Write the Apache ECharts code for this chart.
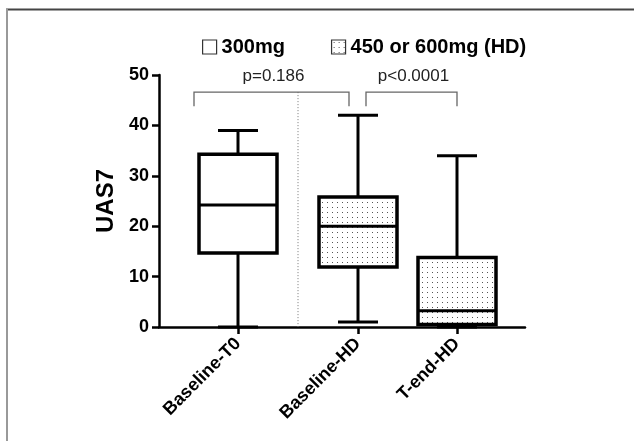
<!DOCTYPE html>
<html lang="en">
<head>
  <meta charset="UTF-8">
  <title>UAS7 boxplot</title>
  <script src="https://cdn.jsdelivr.net/npm/echarts@6/dist/echarts.min.js"></script>
  <style>
    html, body { margin: 0; padding: 0; background: #fff; }
    #main { width: 634px; height: 441px; }
  </style>
</head>
<body>
  <div id="main"></div>
  <script>
    // data
    const categories = ['Baseline-T0', 'Baseline-HD', 'T-end-HD']
    const xPos = [0.79, 1.99, 2.98]
    const mins = [0, 1, 0]
    const q1s = [14.7, 11.9, 0.5]
    const medians = [24.2, 20, 3.2]
    const q3s = [34.3, 25.8, 13.8]
    const maxs = [39, 42, 34]
    const isHD = [false, true, true]
    const yTicks = [0, 10, 20, 30, 40, 50]

    // significance brackets
    const bracketFrom = [0.35, 2.07]
    const bracketTo = [1.90, 2.98]
    const bracketTop = 46.6
    const bracketTip = 43.8
    const pLabels = ['p=0.186', 'p<0.0001']
    const separatorX = 1.39

    const seriesNames = ['300mg', '450 or 600mg (HD)']

    // dotted fill for HD boxes
    const cv = document.createElement('canvas')
    cv.width = 5
    cv.height = 5
    const cx = cv.getContext('2d')
    cx.fillStyle = '#fff'
    cx.fillRect(0, 0, 5, 5)
    cx.fillStyle = '#555'
    cx.fillRect(2, 2, 1, 1)
    const dots = { image: cv, repeat: 'repeat' }

    function boxData(hd) {
      const out = []
      categories.forEach((c, i) => {
        if (isHD[i] === hd) out.push([xPos[i], mins[i], q1s[i], medians[i], q3s[i], maxs[i]])
      })
      return out
    }

    function renderBox(fill) {
      return function (params, api) {
        const x = api.value(0)
        const pMin = api.coord([x, api.value(1)])
        const pQ1 = api.coord([x, api.value(2)])
        const pMed = api.coord([x, api.value(3)])
        const pQ3 = api.coord([x, api.value(4)])
        const pMax = api.coord([x, api.value(5)])
        const bw = api.size([0.78, 0])[0]
        const cw = api.size([0.4, 0])[0]
        const ln = { stroke: '#000', lineWidth: 3 }
        return {
          type: 'group',
          children: [
            { type: 'line', shape: { x1: pMax[0], y1: pMax[1], x2: pQ3[0], y2: pQ3[1] }, style: ln },
            { type: 'line', shape: { x1: pMin[0], y1: pMin[1], x2: pQ1[0], y2: pQ1[1] }, style: ln },
            { type: 'line', shape: { x1: pMax[0] - cw / 2, y1: pMax[1], x2: pMax[0] + cw / 2, y2: pMax[1] }, style: ln },
            { type: 'line', shape: { x1: pMin[0] - cw / 2, y1: pMin[1], x2: pMin[0] + cw / 2, y2: pMin[1] }, style: ln },
            {
              type: 'rect',
              shape: { x: pQ3[0] - bw / 2, y: pQ3[1], width: bw, height: pQ1[1] - pQ3[1] },
              style: { fill: fill, stroke: '#000', lineWidth: 3.5 }
            },
            { type: 'line', shape: { x1: pMed[0] - bw / 2, y1: pMed[1], x2: pMed[0] + bw / 2, y2: pMed[1] }, style: ln }
          ]
        }
      }
    }

    function renderBracket(params, api) {
      const a = api.coord([api.value(0), bracketTop])
      const b = api.coord([api.value(1), bracketTop])
      const tip = api.coord([0, bracketTip])[1]
      const st = { stroke: '#666', lineWidth: 1.3, fill: null }
      return {
        type: 'group',
        children: [
          {
            type: 'polyline',
            shape: { points: [[a[0], tip], [a[0], a[1]], [b[0], b[1]], [b[0], tip]] },
            style: st
          },
          {
            type: 'text',
            style: {
              text: pLabels[params.dataIndex],
              x: (a[0] + b[0]) / 2 + 2,
              y: a[1] - 16,
              align: 'center',
              verticalAlign: 'middle',
              fontFamily: 'Liberation Sans, Arial, sans-serif',
              fontSize: 17,
              fill: '#222'
            }
          }
        ]
      }
    }

    function renderSeparator(params, api) {
      const top = api.coord([api.value(0), bracketTop])
      const bot = api.coord([api.value(0), 0])
      return {
        type: 'line',
        shape: { x1: top[0], y1: top[1], x2: bot[0], y2: bot[1] },
        style: { stroke: '#777', lineWidth: 1, lineDash: [1, 2] }
      }
    }

    const font = 'Liberation Sans, Arial, sans-serif'

    const option = {
      animation: false,
      backgroundColor: '#fff',
      textStyle: { fontFamily: font },
      grid: { left: 159, right: 109, top: 75, bottom: 114, containLabel: false },
      legend: {
        left: 197,
        top: 32,
        itemWidth: 14,
        itemHeight: 14,
        itemGap: 46,
        selectedMode: false,
        textStyle: { fontFamily: font, fontSize: 20, fontWeight: 'bold', color: '#000' },
        data: [
          { name: seriesNames[0], icon: 'rect', itemStyle: { color: '#fff', borderColor: '#333', borderWidth: 1.2 } },
          { name: seriesNames[1], icon: 'rect', itemStyle: { color: dots, borderColor: '#333', borderWidth: 1.2 } }
        ]
      },
      xAxis: {
        type: 'value',
        min: 0,
        max: 3.66,
        splitLine: { show: false },
        axisLine: { lineStyle: { color: '#000', width: 2.5 } },
        axisTick: { show: true, customValues: xPos, length: 7, lineStyle: { color: '#000', width: 2.5 } },
        axisLabel: {
          customValues: xPos,
          rotate: 45,
          margin: 14,
          fontFamily: font,
          fontSize: 18,
          fontWeight: 'bold',
          color: '#000',
          formatter: v => categories[xPos.indexOf(v)] || ''
        }
      },
      yAxis: {
        type: 'value',
        name: 'UAS7',
        nameLocation: 'middle',
        nameGap: 40,
        nameRotate: 90,
        nameTextStyle: { fontFamily: font, fontSize: 24, fontWeight: 'bold', color: '#000' },
        min: 0,
        max: 50,
        interval: 10,
        splitLine: { show: false },
        axisLine: { show: true, lineStyle: { color: '#000', width: 2.5 } },
        axisTick: { show: true, length: 7, lineStyle: { color: '#000', width: 2.5 } },
        axisLabel: {
          margin: 10,
          fontFamily: font,
          fontSize: 18,
          fontWeight: 'bold',
          color: '#000',
          formatter: v => (yTicks.indexOf(v) >= 0 ? String(v) : '')
        }
      },
      series: [
        {
          name: seriesNames[0],
          type: 'custom',
          itemStyle: { color: '#fff' },
          renderItem: renderBox('#fff'),
          encode: { x: 0, y: [1, 2, 3, 4, 5] },
          data: boxData(false),
          z: 5
        },
        {
          name: seriesNames[1],
          type: 'custom',
          itemStyle: { color: '#fff' },
          renderItem: renderBox(dots),
          encode: { x: 0, y: [1, 2, 3, 4, 5] },
          data: boxData(true),
          z: 5
        },
        {
          name: 'separator',
          type: 'custom',
          renderItem: renderSeparator,
          encode: { x: 0, y: 1 },
          data: [[separatorX, bracketTop]],
          z: 1,
          silent: true
        },
        {
          name: 'brackets',
          type: 'custom',
          renderItem: renderBracket,
          encode: { x: [0, 1], y: 2 },
          data: bracketFrom.map((f, i) => [f, bracketTo[i], bracketTop]),
          z: 3,
          silent: true
        }
      ],
      graphic: [
        { type: 'line', shape: { x1: 6, y1: 9.5, x2: 634, y2: 9.5 }, style: { stroke: '#444', lineWidth: 2 } },
        { type: 'line', shape: { x1: 7, y1: 9, x2: 7, y2: 441 }, style: { stroke: '#999', lineWidth: 2 } }
      ]
    }

    const myChart = echarts.init(document.querySelector('#main'))
    myChart.setOption(option)
  </script>
</body>
</html>
